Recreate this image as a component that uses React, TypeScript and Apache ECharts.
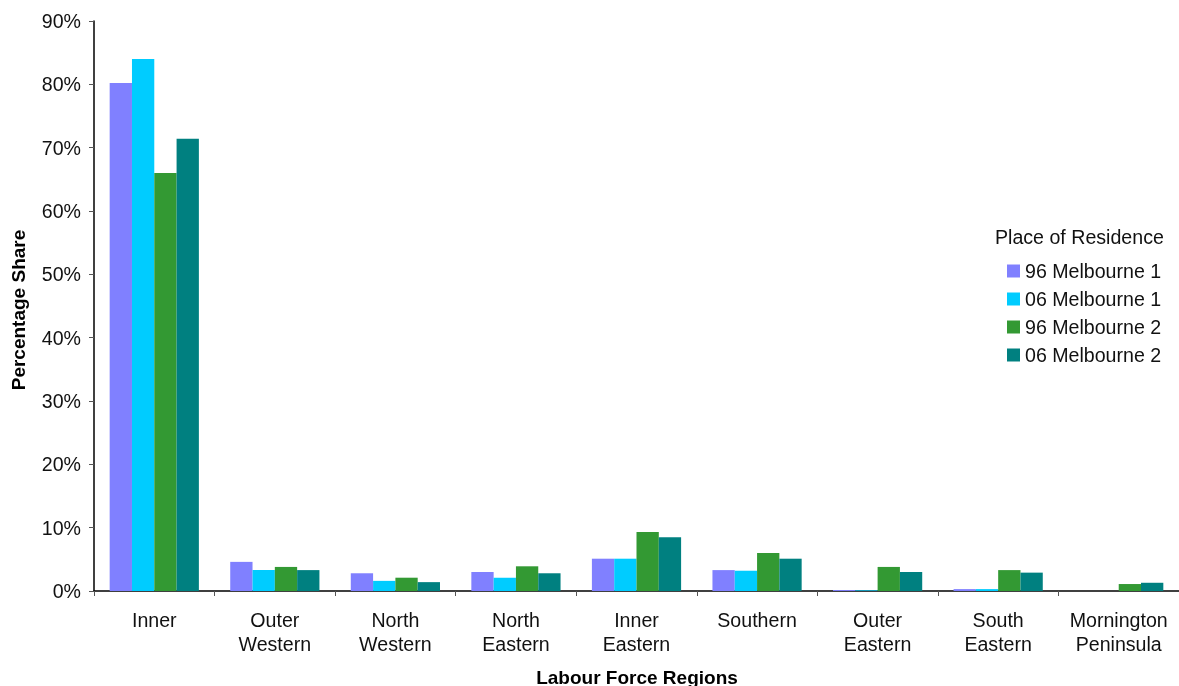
import React, { useEffect, useRef } from "react";
import * as echarts from "echarts";

const categories = [
  "Inner",
  "Outer\nWestern",
  "North\nWestern",
  "North\nEastern",
  "Inner\nEastern",
  "Southern",
  "Outer\nEastern",
  "South\nEastern",
  "Mornington\nPeninsula",
];
const melb1_96 = [80.2, 4.6, 2.8, 3.0, 5.1, 3.3, 0.15, 0.3, 0];
const melb1_06 = [84.0, 3.3, 1.6, 2.1, 5.1, 3.2, 0.1, 0.3, 0];
const melb2_96 = [66.0, 3.8, 2.1, 3.9, 9.3, 6.0, 3.8, 3.3, 1.1];
const melb2_06 = [71.4, 3.3, 1.4, 2.8, 8.5, 5.1, 3.0, 2.9, 1.3];
const seriesNames = ["96 Melbourne 1", "06 Melbourne 1", "96 Melbourne 2", "06 Melbourne 2"];
const colors = ["#8080FF", "#00CCFF", "#339933", "#008080"];

const FONT = "'Liberation Sans', Arial, sans-serif";
const FS = 19.6;

export default function App() {
  const ref = useRef<HTMLDivElement>(null);
  useEffect(() => {
    if (!ref.current) return;
    const chart = echarts.init(ref.current, undefined, { renderer: "svg" });
    const data = [melb1_96, melb1_06, melb2_96, melb2_06];
    chart.setOption({
      animation: false,
      textStyle: { fontFamily: FONT },
      grid: { left: 94, top: 21, width: 1085, height: 570 },
      xAxis: {
        type: "category",
        data: categories,
        axisLine: { lineStyle: { color: "#000", width: 1.5 } },
        axisTick: { show: true, length: 5, lineStyle: { color: "#555" } },
        axisLabel: { fontSize: FS, color: "#111", lineHeight: 24, margin: 17, fontFamily: FONT, interval: 0 },
      },
      yAxis: {
        type: "value",
        min: 0,
        max: 90,
        interval: 10,
        splitLine: { show: false },
        axisLine: { show: true, lineStyle: { color: "#000", width: 1.5 } },
        axisTick: { show: true, length: 5, lineStyle: { color: "#555" } },
        axisLabel: { formatter: "{value}%", fontSize: FS, color: "#111", margin: 13, fontFamily: FONT },
      },
      legend: {
        orient: "vertical",
        left: 1002,
        top: 252,
        itemWidth: 13,
        itemHeight: 13,
        itemGap: 0,
        icon: "rect",
        textStyle: { fontSize: FS, color: "#111", lineHeight: 28, fontFamily: FONT },
        data: seriesNames,
      },
      graphic: [
        {
          type: "text",
          x: 995,
          y: 237,
          style: { text: "Place of Residence", fontSize: FS, fill: "#111", fontFamily: FONT, textVerticalAlign: "middle" },
        },
        {
          type: "text",
          x: 637,
          y: 677,
          style: { text: "Labour Force Regions", fontSize: 19, fontWeight: "bold", fill: "#000", fontFamily: FONT, textAlign: "center", textVerticalAlign: "middle" },
        },
        {
          type: "text",
          x: 18,
          y: 310,
          rotation: Math.PI / 2,
          style: { text: "Percentage Share", fontSize: 19, fontWeight: "bold", fill: "#000", fontFamily: FONT, textAlign: "center", textVerticalAlign: "middle" },
        },
      ],
      series: seriesNames.map((name, i) => ({
        name,
        type: "bar",
        data: data[i],
        barGap: "0%",
        barCategoryGap: "26%",
        itemStyle: { color: colors[i] },
      })),
    });
    return () => chart.dispose();
  }, []);
  return <div ref={ref} style={{ position: "fixed", left: 0, top: 0, width: 1179, height: 686 }} />;
}
